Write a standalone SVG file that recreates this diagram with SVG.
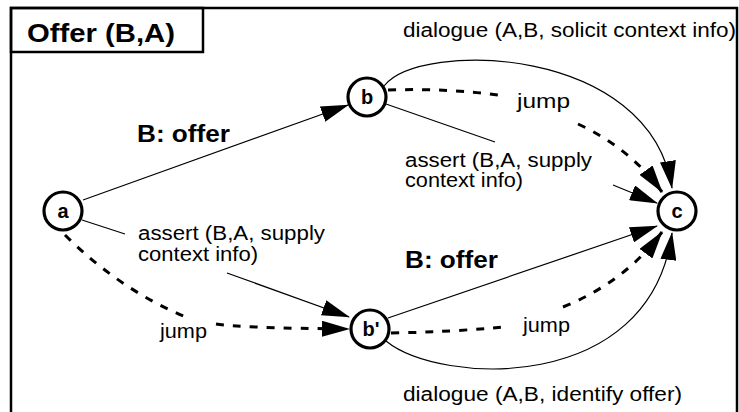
<svg xmlns="http://www.w3.org/2000/svg" width="739" height="412" viewBox="0 0 739 412">
<style>
.frame{fill:none;stroke:#000;stroke-width:2.5}
.node circle{fill:#fff;stroke:#000;stroke-width:3.2}
.node text{font-family:"Liberation Sans",Arial,sans-serif;font-weight:bold;font-size:20px;text-anchor:middle}
.edge{fill:none;stroke:#000;stroke-width:1.2}
.dash{fill:none;stroke:#000;stroke-width:3;stroke-dasharray:8 9}
.lbl{font-family:"Liberation Sans",Arial,sans-serif;font-size:20px}
.blbl{font-family:"Liberation Sans",Arial,sans-serif;font-size:23px;font-weight:bold}
.title{font-family:"Liberation Sans",Arial,sans-serif;font-size:26px;font-weight:bold}
</style>
<defs>
<marker id="ah" markerUnits="userSpaceOnUse" markerWidth="28" markerHeight="16" refX="27" refY="8" orient="auto" viewBox="0 0 28 16">
<path d="M0,0 L28,8 L0,16 z" fill="#000" stroke="none"/>
</marker>
</defs>
<rect x="0" y="0" width="739" height="412" fill="#fff"/>
<g id="frame">
<rect class="frame" x="11" y="8" width="726" height="420"/>
<rect class="frame" x="11" y="8" width="192" height="44"/>
<text class="title" x="27" y="42" textLength="148" lengthAdjust="spacingAndGlyphs">Offer (B,A)</text>
</g>
<g id="connectors">
<path class="edge" d="M83,200 L348,105" marker-end="url(#ah)"/>
<path class="edge" d="M82,220 L125,234 M227,273 L349,317" marker-end="url(#ah)"/>
<path class="dash" d="M65,235 Q120,290 188,318 M216,324 Q240,328 349,329" marker-end="url(#ah)"/>
<path class="edge" d="M384,86 C420,40 650,45 672,188" marker-end="url(#ah)"/>
<path class="dash" d="M388,90 Q450,88 505,96 M578,124 Q630,148 662,192" marker-end="url(#ah)"/>
<path class="edge" d="M386,104 L495,142 M613,185 L657,203" marker-end="url(#ah)"/>
<path class="edge" d="M388,318 L657,226" marker-end="url(#ah)"/>
<path class="dash" d="M391,333 Q450,332 503,327 M563,307 Q625,282 662,232" marker-end="url(#ah)"/>
<path class="edge" d="M386,341 C440,385 650,395 672,233" marker-end="url(#ah)"/>
</g>
<g id="labels">
<text class="blbl" x="137" y="142" textLength="93" lengthAdjust="spacingAndGlyphs">B: offer</text>
<text class="lbl" x="403" y="37" textLength="333" lengthAdjust="spacingAndGlyphs">dialogue (A,B, solicit context info)</text>
<text class="lbl" x="517" y="108" textLength="53" lengthAdjust="spacingAndGlyphs">jump</text>
<text class="lbl" x="405" y="167" textLength="187" lengthAdjust="spacingAndGlyphs">assert (B,A, supply</text>
<text class="lbl" x="405" y="187" textLength="118" lengthAdjust="spacingAndGlyphs">context info)</text>
<text class="lbl" x="138" y="240" textLength="187" lengthAdjust="spacingAndGlyphs">assert (B,A, supply</text>
<text class="lbl" x="138" y="261" textLength="120" lengthAdjust="spacingAndGlyphs">context info)</text>
<text class="lbl" x="160" y="338" textLength="47" lengthAdjust="spacingAndGlyphs">jump</text>
<text class="blbl" x="405" y="268" textLength="93" lengthAdjust="spacingAndGlyphs">B: offer</text>
<text class="lbl" x="523" y="332" textLength="47" lengthAdjust="spacingAndGlyphs">jump</text>
<text class="lbl" x="403" y="401" textLength="279" lengthAdjust="spacingAndGlyphs">dialogue (A,B, identify offer)</text>
</g>
<g id="node-a" class="node"><circle cx="63" cy="211" r="19"/><text x="63" y="218">a</text></g>
<g id="node-b" class="node"><circle cx="367" cy="97" r="19"/><text x="367" y="104">b</text></g>
<g id="node-b2" class="node"><circle cx="370" cy="329" r="19"/><text x="371" y="336">b'</text></g>
<g id="node-c" class="node"><circle cx="677" cy="211" r="19"/><text x="677" y="218">c</text></g>
</svg>
